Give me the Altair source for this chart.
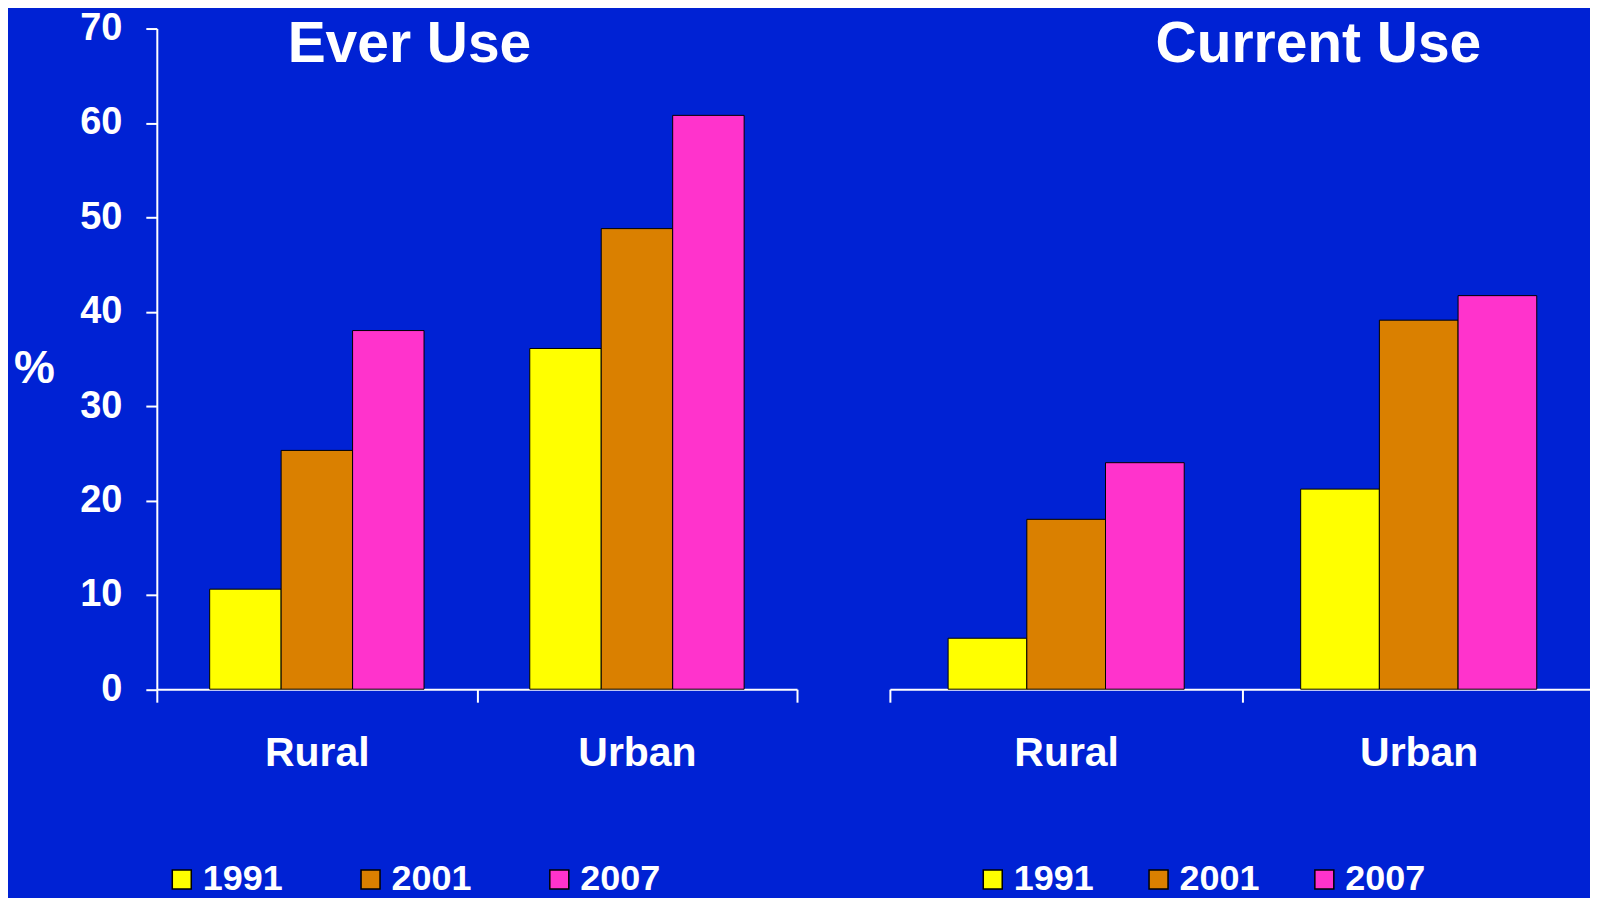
import altair as alt
import pandas as pd

groups = ["Rural", "Urban"]
years = ["1991", "2001", "2007"]
ever_rural = [10.6, 25.3, 38.0]
ever_urban = [36.1, 48.8, 60.8]
current_rural = [5.4, 18.0, 24.0]
current_urban = [21.2, 39.1, 41.7]
panel_titles = ["Ever Use", "Current Use"]
y_ticks = [0, 10, 20, 30, 40, 50, 60, 70]

colors = ["#FFFF00", "#DA8000", "#FF33CC"]
BG = "#0022D4"
FONT = "Liberation Sans"


def frame(rural, urban):
    rows = []
    for g, vals in zip(groups, [rural, urban]):
        for yr, v in zip(years, vals):
            rows.append({"group": g, "year": yr, "value": v})
    return pd.DataFrame(rows)


def panel(df, title, width, show_y, title_dx, legend_x, col_pad):
    x = alt.X(
        "group:N", sort=groups, title=None,
        scale=alt.Scale(paddingInner=0, paddingOuter=0),
        axis=alt.Axis(labelAngle=0, labelFont=FONT, labelFontSize=41,
                      labelFontWeight="bold", labelColor="white", labelPadding=31,
                      domainColor="white", domainWidth=2, tickColor="white",
                      tickWidth=2, tickSize=13, tickBand="extent"),
    )
    if show_y:
        yaxis = alt.Axis(values=y_ticks, format="d", labelFont=FONT, labelFontSize=38,
                         labelFontWeight="bold", labelColor="white", labelPadding=24,
                         domainColor="white", domainWidth=2, tickColor="white",
                         tickWidth=2, tickSize=11, grid=False, titleAngle=0,
                         titleFont=FONT, titleFontSize=46, titleFontWeight="bold",
                         titleColor="white", titleX=-123, titleY=340,
                         titleAlign="center", titleBaseline="middle")
        y = alt.Y("value:Q", scale=alt.Scale(domain=[0, 70], nice=False), title="%", axis=yaxis)
    else:
        y = alt.Y("value:Q", scale=alt.Scale(domain=[0, 70], nice=False), title=None, axis=None)
    bars = alt.Chart(df).mark_bar(stroke="black", strokeWidth=1).encode(
        x=x,
        xOffset=alt.XOffset("year:N", sort=years,
                            scale=alt.Scale(paddingInner=0, paddingOuter=0.74)),
        y=y,
        color=alt.Color(
            "year:N", sort=years,
            scale=alt.Scale(domain=years, range=colors),
            legend=alt.Legend(title=None, orient="none", legendX=legend_x, legendY=834,
                              direction="horizontal", symbolType="square",
                              symbolSize=361, symbolStrokeColor="black",
                              symbolStrokeWidth=1.5, symbolOpacity=1,
                              labelFont=FONT, labelFontSize=36,
                              labelFontWeight="bold", labelColor="white",
                              labelOffset=3, columnPadding=col_pad, padding=0),
        ),
    )
    label = alt.Chart(pd.DataFrame({"t": [title]})).mark_text(
        font=FONT, fontSize=57, fontWeight="bold", color="white",
        align="left", baseline="alphabetic",
    ).encode(x=alt.value(title_dx), y=alt.value(33.5), text="t:N")
    return alt.layer(bars, label).properties(width=width, height=661.5)


left = panel(frame(ever_rural, ever_urban), panel_titles[0], 641, True, 131, 7, 69)
right = panel(frame(current_rural, current_urban), panel_titles[1], 706, False, 266, 85, 46)

chart = (
    alt.hconcat(left, right, spacing=91)
    .resolve_scale(color="independent", xOffset="independent", x="independent")
    .configure(background=BG, padding={"left": 5, "top": 1, "right": -6, "bottom": 0})
    .configure_view(stroke=None)
)

chart.save("out.html", embed_options={"renderer": "svg", "actions": False})
